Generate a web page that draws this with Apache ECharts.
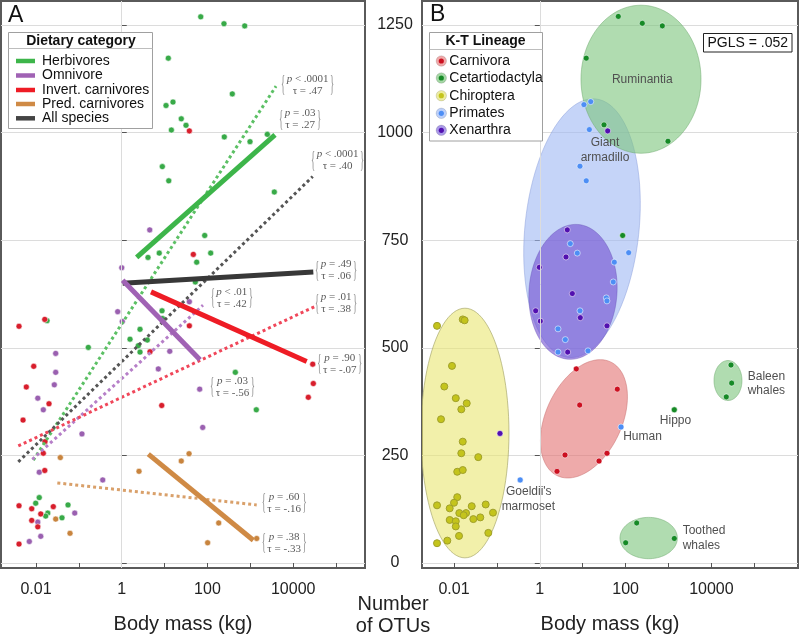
<!DOCTYPE html>
<html><head><meta charset="utf-8">
<script src="https://cdn.jsdelivr.net/npm/echarts@6/dist/echarts.min.js"></script>
<style>html,body{margin:0;padding:0;background:#fff}#c{width:800px;height:636px}</style>
</head><body><div id="c"></div>
<script>
// ---------------- Tick labels ----------------
const massTickLabels = [0.01, 1, 100, 10000];
const massTickMarks = [0.01, 0.1, 1, 10, 100, 1000, 10000, 100000];
const otuTicks = [0, 250, 500, 750, 1000, 1250];

// ---------------- Panel A : dietary category (body mass in kg, number of OTUs) ----------------
const herbMass = [12.2,10.8,15.7,24.5,31.6,14.4,8.85,12.5,4.1,7.5,69.7,243,740,380,247,984,2494,3631,86.3,119,56.1,52.1,8.71,8.93,0.0181,2.67,1.56,3.95,2.44,2.67,0.166,447,1380,0.0119,0.00984,0.0558,0.0188,0.0168,0.0404];
const herbOTU  = [1173,1063,1071,1032,1017,1006,921,888,710,720,1269,1253,1248,1090,990,979,996,862,761,720,699,653,586,568,563,543,520,518,505,490,501,443,356,152,139,135,116,109,105];
const omniMass = [4.5,1.0,0.805,1.03,37.8,0.0288,0.0288,0.0267,13.2,7.14,0.011,0.0148,0.118,0.0119,0.36,0.08,0.011,0.0129,0.00698,65.9,77.5];
const omniOTU  = [774,686,584,561,607,487,443,414,492,451,383,356,300,211,193,116,95,62,50,404,315];
const invMass  = [37.8,46.8,0.00401,0.016,37.8,4.57,0.00884,0.00594,8.57,0.0201,0.00498,0.0162,0.0148,0.016,0.00401,0.00794,0.0253,0.0129,0.00794,0.011,0.00401,28580,29512,22550];
const invOTU   = [1004,717,550,566,551,491,457,409,366,370,332,282,255,215,133,126,131,114,99,84,44,462,417,385];
const predMass = [0.0369,2.53,24.5,37.2,0.0288,0.0621,183,101,1410];
const predOTU  = [245,213,237,254,102,69,93,47,57];

// regression lines: [start [mass, OTU], end [mass, OTU]]
const herbFit      = [[2.23,710],[3767,995]];
const herbFitAll   = [[0.00865,239],[3981,1108]];
const omniFit      = [[1.05,657],[67,472]];
const omniFitAll   = [[0.0082,241],[78.7,599]];
const invFit       = [[4.82,630],[20700,468]];
const invFitAll    = [[0.00386,272],[35400,598]];
const predFit      = [[4.17,253],[1175,53]];
const predFitAll   = [[0.0314,186],[1410,135]];
const allFit       = [[1.05,650],[29512,676]];
const allFitAll    = [[0.00386,235],[28576,898]];

// ---------------- Panel B : K-T lineage ----------------
const carnMass = [7.1,64.1,8.51,3.87,36.8,24,2.52];
const carnOTU  = [451,404,367,251,255,237,213];
const cetMass  = [67.6,245,718,12.1,31.4,973,85.5,28640,29700,22240,1365,181.5,100.5,1365];
const cetOTU   = [1270,1254,1248,1173,1018,980,761,460,418,386,356,93,47,57];
const chiroMass = [0.00402,0.016,0.0177,0.00898,0.00594,0.011,0.0198,0.0148,0.00498,0.016,0.0148,0.0368,0.0119,0.016,0.0119,0.01,0.00402,0.00794,0.0259,0.0548,0.0133,0.0191,0.0168,0.0811,0.00794,0.011,0.0282,0.041,0.011,0.0131,0.0631,0.00698,0.00402];
const chiroOTU  = [551,566,564,458,410,383,371,357,334,282,255,246,212,216,153,140,134,127,132,136,116,116,111,117,100,97,102,106,85,63,70,52,46];
const primMass = [10.7,15.4,14.3,8.65,12.1,118,54.6,5.14,7.48,51.6,35.5,36.8,8.65,2.66,3.93,2.66,13.3,78.2,0.349];
const primOTU  = [1065,1072,1007,922,888,721,699,742,720,653,616,609,586,544,519,490,493,316,193];
const xenMass  = [38.3,4.38,4.08,0.973,5.73,0.802,1.03,8.79,36.8,4.47,0.118];
const xenOTU   = [1004,774,711,687,626,586,562,570,551,490,301];

// grouping ellipses (centre mass kg, centre OTU, half width in decades, half height in OTU, clockwise tilt deg)
const ellipseNames = ['Chiroptera','Carnivora','Primates','Xenarthra','Ruminantia','Baleen whales','Toothed whales'];
const ellipseMass  = [0.018, 10.7, 9.64, 5.94, 228.6, 24380, 345];
const ellipseOTU   = [302, 335, 778, 630, 1124, 424, 58];
const ellipseHalfW = [1.026, 0.886, 1.329, 1.026, 1.399, 0.326, 0.669];
const ellipseHalfH = [290, 146, 302, 157, 172, 46.5, 48];
const ellipseTilt  = [0, 25, 6, 4, 0, 0, 0];

// axis ranges read from the frame
const otuMin = -11.6, otuMax = 1305.8;
const massMinA = 0.001524, massMaxA = 474000;
const massMinB = 0.001795, massMaxB = 1045000;

// ---------------- helpers ----------------
const L = Math.log10;
const pts = (m, o) => m.map((v, i) => [L(v), o[i]]);
const seg = f => f.map(p => [L(p[0]), p[1]]);
const SANS = '"Liberation Sans", Arial, sans-serif';
const SERIF = '"Liberation Serif", "DejaVu Serif", serif';

const C = {
  herb: '#3db54a', herbDot: '#5cc065', herbPt: '#38aa48',
  omni: '#a062b4', omniDot: '#b67fc8', omniPt: '#9a60b0',
  inv: '#ee1c25', invDot: '#f0475a', invPt: '#d81e2c',
  pred: '#cf8a45', predDot: '#d9a06a', predPt: '#c8843e',
  all: '#383838', allDot: '#555555'
};
const ellipseStyles = [
  {fill:'rgba(233,230,113,0.6)', stroke:'rgba(170,170,110,0.7)'},
  {fill:'rgba(227,113,113,0.6)', stroke:'rgba(200,110,110,0.5)'},
  {fill:'rgba(158,183,243,0.6)', stroke:'rgba(140,160,220,0.5)'},
  {fill:'rgba(112,77,208,0.6)',  stroke:'rgba(100,80,180,0.4)'},
  {fill:'rgba(124,196,124,0.6)', stroke:'rgba(110,170,110,0.5)'},
  {fill:'rgba(124,196,124,0.6)', stroke:'rgba(110,170,110,0.5)'},
  {fill:'rgba(124,196,124,0.6)', stroke:'rgba(110,170,110,0.5)'}
];

function xAxisCfg(gi, min, max) {
  return {
    type: 'value', gridIndex: gi, min: L(min), max: L(max),
    name: 'Body mass (kg)', nameLocation: 'middle', nameGap: 46,
    nameTextStyle: {fontSize: 20, color: '#222', fontFamily: SANS},
    axisLine: {show: false},
    axisTick: {show: true, length: 5, lineStyle: {color: '#555'}, customValues: massTickMarks.map(L)},
    axisLabel: {show: true, fontSize: 16, color: '#222', fontFamily: SANS, margin: 14,
      customValues: massTickLabels.map(L), formatter: v => String(+Math.pow(10, v).toPrecision(6))},
    splitLine: {show: false}
  };
}
function yAxisCfg(gi, position, showLabels) {
  return {
    type: 'value', gridIndex: gi, min: otuMin, max: otuMax, position,
    axisLine: {show: false},
    axisTick: {show: true, length: 5, lineStyle: {color: '#555'}, customValues: otuTicks},
    axisLabel: {show: showLabels, fontSize: 16, color: '#222', fontFamily: SANS, align: 'center', margin: 27,
      customValues: otuTicks, formatter: v => String(Math.round(v))},
    splitLine: {show: true, lineStyle: {color: '#dcdcdc', width: 1}}
  };
}
function scatter(gi, name, m, o, color, size, border) {
  return {type: 'scatter', name, xAxisIndex: gi, yAxisIndex: gi, data: pts(m, o), z: 3,
    symbolSize: size, silent: true,
    itemStyle: {color, opacity: 1, borderColor: border || 'rgba(255,255,255,0.55)', borderWidth: 1}};
}
function fitLine(name, data, color, dotted) {
  return {type: 'line', name, xAxisIndex: 0, yAxisIndex: 0, data: seg(data), symbol: 'none', showSymbol: false,
    silent: true, z: dotted ? 4 : 5,
    lineStyle: {color, width: dotted ? 3 : 5, type: dotted ? [3, 3] : 'solid', cap: 'butt'}};
}
function vline(gi) {
  return {type: 'line', xAxisIndex: gi, yAxisIndex: gi, data: [], z: 1, silent: true,
    markLine: {silent: true, symbol: 'none', label: {show: false},
      lineStyle: {color: '#dcdcdc', type: 'solid', width: 1}, data: [{xAxis: L(1)}]}};
}

// ---------------- graphic (legends, annotations) ----------------
const cv = document.createElement('canvas').getContext('2d');
function textW(t, font) { cv.font = font; return cv.measureText(t).width; }

const graphics = [];
function txt(x, y, text, opt) {
  opt = opt || {};
  const size = opt.size || 14;
  const weight = opt.weight || 'normal';
  const family = opt.family || SANS;
  graphics.push({type: 'text', x, y, silent: true, z: 100, scaleX: opt.scaleX || 1,
    style: {text, fill: opt.color || '#111', fontSize: size, fontWeight: weight, fontFamily: family,
      font: weight + ' ' + size + 'px ' + family,
      align: opt.align || 'left', textAlign: opt.align || 'left',
      verticalAlign: 'middle', textVerticalAlign: 'middle', lineHeight: opt.lh, rich: opt.rich}});
}
// panel letters
txt(8, 16, 'A', {size: 23});
txt(430, 15, 'B', {size: 23});

// Legend A
graphics.push({type: 'rect', z: 90, silent: true, shape: {x: 8.5, y: 32.5, width: 144, height: 96}, style: {fill: '#fff', stroke: '#a0a0a0', lineWidth: 1}});
graphics.push({type: 'line', z: 91, silent: true, shape: {x1: 8.5, y1: 48.5, x2: 152.5, y2: 48.5}, style: {stroke: '#bdbdbd', lineWidth: 1}});
txt(81, 41, 'Dietary category', {weight: 'bold', align: 'center', size: 14});
const legA = [['Herbivores', C.herb], ['Omnivore', C.omni], ['Invert. carnivores', C.inv], ['Pred. carnivores', C.pred], ['All species', '#444']];
const legAy = [61, 75.5, 90, 104, 118.3];
legA.forEach((d, i) => {
  graphics.push({type: 'line', z: 92, silent: true, shape: {x1: 16, y1: legAy[i], x2: 35, y2: legAy[i]}, style: {stroke: d[1], lineWidth: 4.5}});
  txt(42, legAy[i], d[0], {size: 14});
});

// Legend B
graphics.push({type: 'rect', z: 90, silent: true, shape: {x: 429.5, y: 32.5, width: 113, height: 108.5}, style: {fill: '#fff', stroke: '#a0a0a0', lineWidth: 1}});
graphics.push({type: 'line', z: 91, silent: true, shape: {x1: 429.5, y1: 49.5, x2: 542.5, y2: 49.5}, style: {stroke: '#bdbdbd', lineWidth: 1}});
txt(485.5, 41.5, 'K-T Lineage', {weight: 'bold', align: 'center', size: 14});
const legB = [['Carnivora', '#f0aaaa', '#cc1020'], ['Cetartiodactyla', '#a6d8a6', '#168a26'], ['Chiroptera', '#ececa0', '#c4c41c'], ['Primates', '#bdd0fa', '#4d8ef5'], ['Xenarthra', '#aa9ae8', '#5210b0']];
const legBy = [61, 78, 95.7, 113.3, 130.3];
legB.forEach((d, i) => {
  graphics.push({type: 'circle', z: 92, silent: true, shape: {cx: 441.3, cy: legBy[i], r: 5.2}, style: {fill: d[1], stroke: 'rgba(0,0,0,0.12)', lineWidth: 1}});
  graphics.push({type: 'circle', z: 93, silent: true, shape: {cx: 441.3, cy: legBy[i], r: 2.6}, style: {fill: d[2]}});
  txt(449.3, legBy[i], d[0], {size: 14});
});

// PGLS box
graphics.push({type: 'rect', z: 90, silent: true, shape: {x: 703.5, y: 33.5, width: 88.5, height: 18.5}, style: {fill: '#fff', stroke: '#222', lineWidth: 1}});
txt(747.8, 43, 'PGLS = .052', {align: 'center', size: 14});

// Number of OTUs (shared y axis title)
txt(393, 604, 'Number', {align: 'center', size: 20, color: '#222'});
txt(393, 626, 'of OTUs', {align: 'center', size: 20, color: '#222'});

// Panel B group labels
const LBL = '#505050';
txt(642.3, 80, 'Ruminantia', {align: 'center', size: 12, color: LBL});
txt(605, 142.7, 'Giant', {align: 'center', size: 12, color: LBL});
txt(605, 157.3, 'armadillo', {align: 'center', size: 12, color: LBL});
txt(642.5, 436.7, 'Human', {align: 'center', size: 12, color: LBL});
txt(675.5, 421, 'Hippo', {align: 'center', size: 12, color: LBL});
txt(747.7, 376.7, 'Baleen', {size: 12, color: LBL});
txt(747.7, 390.7, 'whales', {size: 12, color: LBL});
txt(682.7, 531, 'Toothed', {size: 12, color: LBL});
txt(682.7, 545.7, 'whales', {size: 12, color: LBL});
txt(528.8, 491.7, "Goeldii's", {align: 'center', size: 12, color: LBL});
txt(528.3, 506.7, 'marmoset', {align: 'center', size: 12, color: LBL});

// Panel A statistics annotations: [left x, centre y, p relation, tau]
const annots = [
  [281, 85, '< .0001', '.47'],
  [279, 119.5, '= .03', '.27'],
  [311, 160.5, '< .0001', '.40'],
  [315, 270.5, '= .49', '.06'],
  [315, 303.5, '= .01', '.38'],
  [210.7, 298, '< .01', '.42'],
  [317.3, 364, '= .90', '-.07'],
  [210, 387, '= .03', '-.56'],
  [261.7, 503, '= .60', '-.16'],
  [261.7, 543, '= .38', '-.33']
];
const AFS = 11, BFS = 24, BSX = 0.36;
const braceW = textW('{', BFS + 'px ' + SERIF) * BSX;
annots.forEach(a => {
  const l1 = 'p ' + a[2], l2 = '\u03c4 = ' + a[3];
  const innerW = Math.max(textW(l1, AFS + 'px ' + SERIF), textW(l2, AFS + 'px ' + SERIF));
  const total = braceW + 1.5 + innerW + 1.5 + braceW;
  txt(a[0], a[1], '{', {size: BFS, family: SERIF, color: '#8a8a8a', scaleX: BSX});
  txt(a[0] + total - braceW, a[1], '}', {size: BFS, family: SERIF, color: '#8a8a8a', scaleX: BSX});
  txt(a[0] + total / 2, a[1], '{i|p} ' + a[2] + '\n\u03c4 = ' + a[3], {size: AFS, family: SERIF, color: '#5a5a5a', align: 'center', lh: 12,
    rich: {i: {fontStyle: 'italic', fontSize: AFS, fontFamily: SERIF, fill: '#5a5a5a', lineHeight: 12}}});
});

// ---------------- option ----------------
const option = {
  animation: false,
  backgroundColor: '#fff',
  textStyle: {fontFamily: SANS},
  grid: [
    {left: 1, top: 1, width: 364, height: 567, show: true, borderColor: '#5a5a5a', borderWidth: 2, backgroundColor: 'transparent', containLabel: false, outerBoundsMode: 'none'},
    {left: 422, top: 1, width: 376, height: 567, show: true, borderColor: '#5a5a5a', borderWidth: 2, backgroundColor: 'transparent', containLabel: false, outerBoundsMode: 'none'}
  ],
  xAxis: [xAxisCfg(0, massMinA, massMaxA), xAxisCfg(1, massMinB, massMaxB)],
  yAxis: [yAxisCfg(0, 'right', false), yAxisCfg(1, 'left', true)],
  series: [
    vline(0), vline(1),
    // panel A points
    scatter(0, 'Herbivores', herbMass, herbOTU, C.herbPt, 6),
    scatter(0, 'Omnivore', omniMass, omniOTU, C.omniPt, 6),
    scatter(0, 'Invert. carnivores', invMass, invOTU, C.invPt, 6),
    scatter(0, 'Pred. carnivores', predMass, predOTU, C.predPt, 6),
    // panel A fits
    fitLine('Herbivores (all)', herbFitAll, C.herbDot, true),
    fitLine('All species (all)', allFitAll, C.allDot, true),
    fitLine('Omnivore (all)', omniFitAll, C.omniDot, true),
    fitLine('Invert. carnivores (all)', invFitAll, C.invDot, true),
    fitLine('Pred. carnivores (all)', predFitAll, C.predDot, true),
    fitLine('Herbivores', herbFit, C.herb, false),
    fitLine('All species', allFit, C.all, false),
    fitLine('Omnivore', omniFit, C.omni, false),
    fitLine('Invert. carnivores', invFit, C.inv, false),
    fitLine('Pred. carnivores', predFit, C.pred, false),
    // panel B ellipses
    {type: 'custom', name: 'groups', xAxisIndex: 1, yAxisIndex: 1, z: 2, silent: true, clip: true,
      data: ellipseMass.map((m, i) => [L(m), ellipseOTU[i], ellipseHalfW[i], ellipseHalfH[i], ellipseTilt[i]]),
      encode: {x: 0, y: 1},
      renderItem: function (params, api) {
        const c = api.coord([api.value(0), api.value(1)]);
        const s = api.size([api.value(2), api.value(3)]);
        const th = api.value(4) * Math.PI / 180;
        const p = [];
        for (let k = 0; k < 96; k++) {
          const t = k / 96 * Math.PI * 2;
          const ex = s[0] * Math.cos(t), ey = s[1] * Math.sin(t);
          p.push([c[0] + ex * Math.cos(th) - ey * Math.sin(th), c[1] + ex * Math.sin(th) + ey * Math.cos(th)]);
        }
        const st = ellipseStyles[params.dataIndex];
        return {type: 'polygon', shape: {points: p}, style: {fill: st.fill, stroke: st.stroke, lineWidth: 1}};
      }},
    // panel B points
    scatter(1, 'Chiroptera', chiroMass, chiroOTU, '#c4c41c', 7, '#a0a02a'),
    scatter(1, 'Carnivora', carnMass, carnOTU, '#cc1020', 6),
    scatter(1, 'Cetartiodactyla', cetMass, cetOTU, '#168a26', 6),
    scatter(1, 'Primates', primMass, primOTU, '#4d8ef5', 6),
    scatter(1, 'Xenarthra', xenMass, xenOTU, '#5210b0', 6)
  ],
  graphic: {elements: graphics}
};

const chart = echarts.init(document.getElementById('c'), null, {renderer: 'canvas'});
chart.setOption(option);
</script></body></html>
